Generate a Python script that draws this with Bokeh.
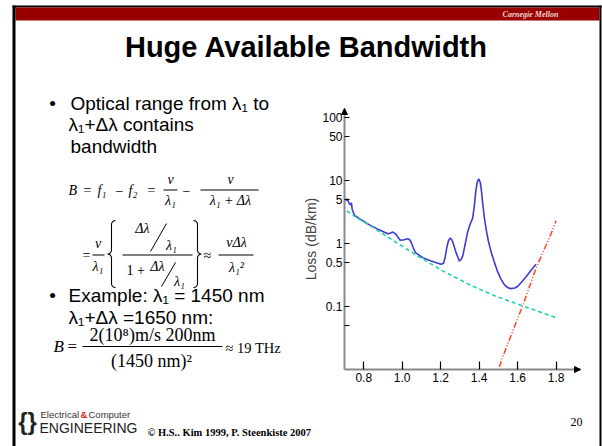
import math
from bokeh.plotting import figure
from bokeh.models import (Range1d, FixedTicker, Arrow, NormalHead, CustomJSTickFormatter,
                          LinearAxis, LogAxis, LogScale)
from bokeh.core.properties import value
from bokeh.embed import file_html
from bokeh.resources import INLINE

# ---------------- data ----------------
fiber_wl = [0.705, 0.714, 0.722, 0.730, 0.736, 0.740, 0.752, 0.790, 0.830, 0.880, 0.925,
            0.940, 0.951, 0.962, 0.972, 0.989, 1.010, 1.029, 1.040, 1.046, 1.058, 1.069,
            1.107, 1.150, 1.202, 1.215, 1.224, 1.231, 1.240, 1.249, 1.256, 1.263, 1.280,
            1.297, 1.306, 1.315, 1.328, 1.340, 1.355, 1.366, 1.375, 1.382, 1.390, 1.398,
            1.406, 1.412, 1.418, 1.427, 1.436, 1.448, 1.462, 1.480, 1.496, 1.515, 1.531,
            1.550, 1.566, 1.585, 1.600, 1.620, 1.644, 1.670, 1.696]
fiber_loss = [4.8, 5.1, 4.5, 4.1, 4.4, 3.5, 2.8, 2.35, 1.98, 1.65, 1.43,
              1.47, 1.52, 1.45, 1.35, 1.13, 1.15, 1.19, 1.14, 1.06, 0.85, 0.72,
              0.60, 0.53, 0.47, 0.49, 0.62, 0.84, 1.10, 1.22, 1.18, 1.06, 0.72,
              0.53, 0.56, 0.64, 1.00, 1.52, 2.10, 2.50, 3.90, 6.50, 9.30, 10.6,
              9.2, 6.8, 4.5, 2.6, 1.71, 1.10, 0.74, 0.50, 0.36, 0.27, 0.224,
              0.200, 0.194, 0.198, 0.21, 0.245, 0.30, 0.38, 0.47]
rayleigh_wl = [0.712, 0.760, 0.830, 0.934, 1.072, 1.211, 1.358, 1.480, 1.627, 1.800]
rayleigh_loss = [3.3, 2.6, 1.95, 1.22, 0.66, 0.37, 0.218, 0.15, 0.103, 0.0675]
ir_wl = [1.505, 1.522, 1.627, 1.696, 1.774, 1.800]
ir_loss = [0.0112, 0.016, 0.105, 0.41, 1.43, 2.3]

x_ticks = [0.8, 1.0, 1.2, 1.4, 1.6, 1.8]
x_tick_labels = ["0.8", "1.0", "1.2", "1.4", "1.6", "1.8"]
y_ticks = [0.05, 0.1, 0.5, 1, 5, 10, 50, 100]
y_tick_labels = ["", "0.1", "0.5", "1", "5", "10", "50", "100"]
y_axis_title = "Loss (dB/km)"
slide_title = "Huge Available Bandwidth"

# ---------------- page geometry (pixels) ----------------
W, H = 602, 446
FL, FR, FT, FB = 344, 580, 108, 369   # chart box on the page
X0, X1 = 0.7, 1.927                   # wavelength span of the chart box
Y0, Y1 = 0.0102, 137.0                # loss span of the chart box

p = figure(width=W, height=H, x_range=Range1d(0, W), y_range=Range1d(H, 0),
           x_axis_location=None, y_axis_location=None, min_border=0, title=None,
           output_backend="svg", toolbar_location=None, outline_line_color=None,
           background_fill_color="white", border_fill_color="white")
p.grid.visible = False

# chart coordinate system mapped onto the chart box
k = (X1 - X0) / (FR - FL)
m = (math.log10(Y1) - math.log10(Y0)) / (FB - FT)
p.extra_x_ranges = {"wl": Range1d(X0 - FL * k, X1 + (W - FR) * k)}
p.extra_y_ranges = {"loss": Range1d(10 ** (math.log10(Y0) - (H - FB) * m),
                                    10 ** (math.log10(Y1) + FT * m))}
p.extra_y_scales = {"loss": LogScale()}
CH = dict(x_range_name="wl", y_range_name="loss")

p.line(fiber_wl, fiber_loss, line_color="#3c3cd4", line_width=1.6, **CH)
p.line(rayleigh_wl, rayleigh_loss, line_color="#1ed2a4", line_width=1.6, line_dash="4 3", **CH)
p.line(ir_wl, ir_loss, line_color="#ff4422", line_width=1.5, line_dash="6 2 1 2 1 2", **CH)

fmt_code = """
for (let i = 0; i < tvals.length; i++) {
  if (Math.abs(tvals[i] - tick) <= 1e-9 * Math.max(1, Math.abs(tick))) return tlabels[i];
}
return "";
"""
xax = LinearAxis(fixed_location=Y0, bounds=(X0, X1), ticker=FixedTicker(ticks=x_ticks),
                 formatter=CustomJSTickFormatter(args=dict(tvals=x_ticks, tlabels=x_tick_labels), code=fmt_code),
                 **CH)
yax = LogAxis(fixed_location=X0, bounds=(Y0, Y1), ticker=FixedTicker(ticks=y_ticks),
              formatter=CustomJSTickFormatter(args=dict(tvals=y_ticks, tlabels=y_tick_labels), code=fmt_code),
              axis_label=y_axis_title, **CH)
for ax in (xax, yax):
    ax.axis_line_color = "#8a8a8a"
    ax.axis_line_width = 2
    ax.major_tick_line_color = "black"
    ax.major_tick_line_width = 1.2
    ax.minor_tick_line_color = None
    ax.major_tick_out = 0
    ax.major_label_text_font = "Liberation Sans"
    ax.major_label_text_font_size = "12px"
    ax.major_label_text_color = "black"
xax.major_tick_in = 8
xax.major_label_standoff = 3
yax.major_tick_in = 5
yax.major_label_standoff = 2
yax.axis_label_text_font = "Liberation Sans"
yax.axis_label_text_font_style = "normal"
yax.axis_label_text_font_size = "14px"
yax.axis_label_standoff = 0
p.add_layout(xax, "below")
p.add_layout(yax, "left")

p.add_layout(Arrow(end=NormalHead(size=6, fill_color="black", line_color="black"),
                   x_start=X0, y_start=100, x_end=X0, y_end=Y1, line_alpha=0, **CH))
p.add_layout(Arrow(end=NormalHead(size=6, fill_color="black", line_color="black"),
                   x_start=1.88, y_start=Y0, x_end=X1, y_end=Y0, line_alpha=0, **CH))

# ---------------- slide decoration (page pixels) ----------------
def box(l, t, r, b, color):
    p.quad(left=[l], right=[r], top=[t], bottom=[b], fill_color=color, line_color=None)

def seg(pts, width=1.0, color="black"):
    p.line([x for x, _ in pts], [y for _, y in pts], line_color=color, line_width=width)

def T(x, y, s, size=19, font="Liberation Sans", style="normal", color="black", align="left"):
    p.text(x=[x], y=[y], text=[s], text_font=value(font), text_font_size=value(f"{size}px"),
           text_font_style=style, text_color=color, text_align=align, text_baseline="middle")

def brace(xl, xr, yt, yb, opening=True):
    ym = (yt + yb) / 2
    w = xr - xl
    r = 4.0
    n = 6
    if opening:
        sx, tip, end = xl + w * 0.5, xl, xr
    else:
        sx, tip, end = xr - w * 0.5, xr, xl
    pts = []
    for i in range(n + 1):
        a = math.pi / 2 * i / n
        pts.append((end + (sx - end) * math.sin(a), yt + r * (1 - math.cos(a))))
    pts.append((sx, ym - r))
    for i in range(1, n + 1):
        a = math.pi / 2 * i / n
        pts.append((sx + (tip - sx) * (1 - math.cos(a)), ym - r + r * math.sin(a)))
    for i in range(1, n + 1):
        a = math.pi / 2 * i / n
        pts.append((tip + (sx - tip) * math.sin(a), ym + r * (1 - math.cos(a))))
    pts.append((sx, yb - r))
    for i in range(1, n + 1):
        a = math.pi / 2 * i / n
        pts.append((sx + (end - sx) * (1 - math.cos(a)), yb - r + r * math.sin(a)))
    seg(pts, width=1.1)

# slide frame and header
box(12, 5, 601, 7, "black")
box(15, 7, 599, 20, "#990000")
box(12, 5, 15, H, "black")
box(599, 5, 601, H, "black")
T(530, 13.5, "Carnegie Mellon", size=8, font="Liberation Serif", style="bold italic",
  color="#f2d4d4", align="center")
T(306, 46, slide_title, size=29, style="bold", align="center")

# bullet 1
T(52, 102.5, "\u2022", size=19, align="center")
T(70, 102.5, "Optical range from \u03bb\u2081 to", size=19)
T(68, 124, "\u03bb\u2081+\u0394\u03bb contains", size=19)
T(70, 146, "bandwidth", size=19)

SER = "Liberation Serif"
# formula 1
T(68, 190, "B", size=14, font=SER, style="italic")
T(83, 190, "=", size=14, font=SER)
T(97, 190, "f\u2081", size=14, font=SER, style="italic")
T(115, 190, "\u2212", size=14, font=SER)
T(128, 190, "f\u2082", size=14, font=SER, style="italic")
T(147, 190, "=", size=14, font=SER)
T(170, 179, "\u03bd", size=14, font=SER, style="italic", align="center")
seg([(163, 189.5), (177, 189.5)])
T(170, 200, "\u03bb\u2081", size=14, font=SER, style="italic", align="center")
T(182, 190, "\u2212", size=14, font=SER)
T(230, 179, "\u03bd", size=14, font=SER, style="italic", align="center")
seg([(200, 189.5), (258, 189.5)])
T(230, 200, "\u03bb\u2081 + \u0394\u03bb", size=14, font=SER, style="italic", align="center")

# formula 2
T(82, 255, "=", size=14, font=SER)
T(97.5, 243, "\u03bd", size=14, font=SER, style="italic", align="center")
seg([(92, 254.5), (104, 254.5)])
T(97.5, 266, "\u03bb\u2081", size=14, font=SER, style="italic", align="center")
brace(107, 115, 220, 287, opening=True)
T(142, 228, "\u0394\u03bb", size=14, font=SER, style="italic", align="center")
seg([(150, 251), (166, 223)])
T(171, 245, "\u03bb\u2081", size=14, font=SER, style="italic", align="center")
seg([(122, 254.5), (192, 254.5)])
T(126, 270, "1 +", size=14, font=SER)
T(157, 266, "\u0394\u03bb", size=14, font=SER, style="italic", align="center")
seg([(161, 286), (175, 262)])
T(179, 281, "\u03bb\u2081", size=14, font=SER, style="italic", align="center")
brace(193, 201, 220, 287, opening=False)
T(203, 255, "\u2248", size=14, font=SER)
T(236, 242, "\u03bd\u0394\u03bb", size=14, font=SER, style="italic", align="center")
seg([(218, 254.5), (253, 254.5)])
T(236, 267, "\u03bb\u2081\u00b2", size=14, font=SER, style="italic", align="center")

# bullet 2
T(52, 295, "\u2022", size=19, align="center")
T(68, 295, "Example:  \u03bb\u2081 = 1450 nm", size=19)
T(68, 316.5, "\u03bb\u2081+\u0394\u03bb =1650 nm:", size=19)

# formula 3
T(53, 346, "B", size=17, font=SER, style="italic")
T(67, 346, "=", size=17, font=SER)
T(152, 334, "2(10\u2078)m/s 200nm", size=18, font=SER, align="center")
seg([(82, 346), (222, 346)])
T(151, 360, "(1450 nm)\u00b2", size=18, font=SER, align="center")
T(225, 347, "\u2248 19 THz", size=14.5, font=SER)

# footer
T(27, 421, "{}", size=24, style="bold", color="#222222", align="center")
T(40, 414, "Electrical", size=9.5, color="#333333")
T(80, 414, "&", size=9.5, style="bold", color="#d02020")
T(88, 414, "Computer", size=9.5, color="#333333")
T(39, 427, "ENGINEERING", size=14, color="#222222")
T(147, 432, "\u00a9 H.S.. Kim 1999, P. Steenkiste 2007", size=10.5, font=SER, style="bold")
T(576, 421, "20", size=12, font=SER, align="center")

open("out.html", "w").write(file_html(p, INLINE))
